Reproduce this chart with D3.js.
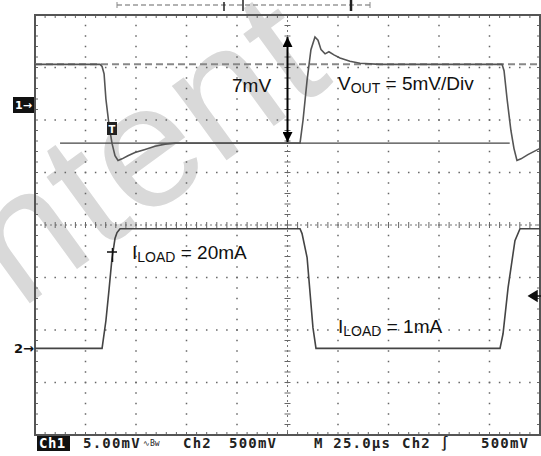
<!DOCTYPE html>
<html>
<head>
<meta charset="utf-8">
<script src="https://cdn.jsdelivr.net/npm/d3@7"></script>
<style>
  body { margin: 0; background: #fff; }
  svg { display: block; }
</style>
</head>
<body>
<svg id="svg" width="541" height="456"></svg>
<script>
"use strict";

// channel 1 : output voltage, 5 mV/div, time in us (25 us/div)
const ch1Time = [0, 32.2, 33.2, 34.2, 35.1, 36.6, 38.1, 39.6, 41.1, 43.1,
  46, 49.5, 54.5, 59.4, 64.4, 69.3, 131.2, 132.7, 134.7, 136.6,
  138.6, 140.1, 141.6, 143.6, 145.5, 148, 151, 155.9, 160.9, 170.8,
  231.2, 232.2, 233.7, 235.6, 237.1, 238.6, 240.6, 244, 250];
const ch1mV = [3.8, 3.8, 3.6, 2.9, 0.5, -1.9, -3.7, -4.9, -5.35, -5.2,
  -4.9, -4.6, -4.3, -4.0, -3.8, -3.7, -3.7, -1.5, 2.3, 5.2,
  6.4, 6.1, 5.2, 4.8, 5.0, 4.7, 4.4, 4.1, 3.9, 3.8,
  3.8, 3.2, 0.5, -2.5, -4.2, -5.35, -5.2, -4.8, -4.2];

// channel 2 : load current sense, 500 mV/div
const ch2Time = [0, 33.2, 35.1, 36.6, 38.1, 39.6, 40.6, 42.1, 131.2, 132.2,
  134.7, 137.6, 139.1, 230.2, 231.7, 234.2, 237.6, 240.1, 250];
const ch2mV = [0, 0, 263, 550, 855, 1046, 1103, 1140, 1140, 1093,
  865, 197, 0, 0, 139, 578, 1026, 1140, 1140];

// cursors (ch1, mV) and annotation
const cursorLow = -3.7, cursorHigh = 3.8, cursorStart = 12.4, cursorEnd = 235;
const peakMV = 6.4, arrowTime = 125;

const statusLabels = [
  {x: 83, text: "5.00mV"}, {x: 183, text: "Ch2"}, {x: 229, text: "500mV"},
  {x: 314, text: "M 25.0\u00b5s"}, {x: 402, text: "Ch2 \u222b"}, {x: 481, text: "500mV"}
];

const svg = d3.select("#svg");

const x = d3.scaleLinear().domain([0, 250]).range([35, 540]);
const yDiv = d3.scaleLinear().domain([-4, 4]).range([435, 15]);
const ch1Offset = 2.3, ch2Offset = -2.35;
const y1 = v => yDiv(v / 5 + ch1Offset);
const y2 = v => yDiv(v / 500 + ch2Offset);

// watermark
svg.append("text")
  .attr("transform", "translate(-161,442) rotate(-36)")
  .attr("font-family", "Liberation Sans, Arial, sans-serif")
  .attr("font-size", 175)
  .attr("fill", "#d9d9d9")
  .text("Content");

const grid = svg.append("g");
const minorDiv = d3.range(-4, 4.001, 0.2);
const minorT = d3.range(0, 250.001, 5);

// dotted grid lines
d3.range(25, 250, 25).filter(t => t !== 125).forEach(t => {
  grid.selectAll(null).data(minorDiv).enter().append("rect")
    .attr("x", x(t) - 0.75).attr("y", d => yDiv(d) - 0.75)
    .attr("width", 1.5).attr("height", 1.5).attr("fill", "#666");
});
d3.range(-3, 4, 1).filter(d => d !== 0).forEach(dv => {
  grid.selectAll(null).data(minorT).enter().append("rect")
    .attr("x", d => x(d) - 0.75).attr("y", yDiv(dv) - 0.75)
    .attr("width", 1.5).attr("height", 1.5).attr("fill", "#666");
});

// centre axes with ticks
grid.append("line")
  .attr("x1", x(0)).attr("x2", x(250)).attr("y1", yDiv(0)).attr("y2", yDiv(0))
  .attr("stroke", "#777").attr("stroke-dasharray", "2,3");
grid.selectAll(null).data(minorT).enter().append("line")
  .attr("x1", d => x(d)).attr("x2", d => x(d))
  .attr("y1", yDiv(0) - 3).attr("y2", yDiv(0) + 3)
  .attr("stroke", "#666");
grid.append("line")
  .attr("x1", x(125)).attr("x2", x(125)).attr("y1", yDiv(4)).attr("y2", yDiv(-4))
  .attr("stroke", "#777").attr("stroke-dasharray", "2,3");
grid.selectAll(null).data(minorDiv).enter().append("line")
  .attr("x1", x(125) - 3).attr("x2", x(125) + 3)
  .attr("y1", d => yDiv(d)).attr("y2", d => yDiv(d))
  .attr("stroke", "#666");

// frame edge ticks
grid.selectAll(null).data(minorT).enter().append("line")
  .attr("x1", d => x(d)).attr("x2", d => x(d))
  .attr("y1", yDiv(4)).attr("y2", yDiv(4) + 3).attr("stroke", "#666");
grid.selectAll(null).data(minorT).enter().append("line")
  .attr("x1", d => x(d)).attr("x2", d => x(d))
  .attr("y1", yDiv(-4)).attr("y2", yDiv(-4) - 3).attr("stroke", "#666");
grid.selectAll(null).data(minorDiv).enter().append("line")
  .attr("x1", x(0)).attr("x2", x(0) + 3)
  .attr("y1", d => yDiv(d)).attr("y2", d => yDiv(d)).attr("stroke", "#666");
grid.selectAll(null).data(minorDiv).enter().append("line")
  .attr("x1", x(250)).attr("x2", x(250) - 3)
  .attr("y1", d => yDiv(d)).attr("y2", d => yDiv(d)).attr("stroke", "#666");

svg.append("rect")
  .attr("x", x(0)).attr("y", yDiv(4))
  .attr("width", x(250) - x(0)).attr("height", yDiv(-4) - yDiv(4))
  .attr("fill", "none").attr("stroke", "#555").attr("stroke-width", 2);

// record bar at the top
svg.append("line")
  .attr("x1", 117).attr("x2", 370).attr("y1", 5).attr("y2", 5)
  .attr("stroke", "#999").attr("stroke-width", 1.5).attr("stroke-dasharray", "5,3");
[[117, 2, 8, "#888", 1], [224, 2, 11, "#222", 1.5], [243, 0, 11, "#222", 1.5],
 [351, 0, 11, "#222", 2.5], [370, 2, 8, "#888", 1]].forEach(m => {
  svg.append("line").attr("x1", m[0]).attr("x2", m[0]).attr("y1", m[1]).attr("y2", m[2])
    .attr("stroke", m[3]).attr("stroke-width", m[4]);
});

// cursors
svg.append("line")
  .attr("x1", x(0)).attr("x2", x(250)).attr("y1", y1(cursorHigh)).attr("y2", y1(cursorHigh))
  .attr("stroke", "#888").attr("stroke-width", 2).attr("stroke-dasharray", "7,4");
svg.append("line")
  .attr("x1", x(cursorStart)).attr("x2", x(cursorEnd)).attr("y1", y1(cursorLow)).attr("y2", y1(cursorLow))
  .attr("stroke", "#444").attr("stroke-width", 1.2);

// traces
const line1 = d3.line().x((d, i) => x(ch1Time[i])).y(d => y1(d));
const line2 = d3.line().x((d, i) => x(ch2Time[i])).y(d => y2(d));
svg.append("path").datum(ch1mV).attr("d", line1)
  .attr("fill", "none").attr("stroke", "#555").attr("stroke-width", 1.6);
svg.append("path").datum(ch2mV).attr("d", line2)
  .attr("fill", "none").attr("stroke", "#444").attr("stroke-width", 1.6);

// markers on the left and right
svg.append("rect").attr("x", 13).attr("y", 97).attr("width", 21).attr("height", 16).attr("fill", "#111");
svg.append("text").attr("x", 15).attr("y", 109).attr("fill", "#fff")
  .attr("font-family", "DejaVu Sans, sans-serif").attr("font-size", 11).attr("font-weight", "bold")
  .text("1\u2192");
svg.append("text").attr("x", 14).attr("y", y2(0) + 5).attr("fill", "#111")
  .attr("font-family", "DejaVu Sans, sans-serif").attr("font-size", 13).attr("font-weight", "bold")
  .text("2\u2192");
svg.append("rect").attr("x", 107).attr("y", 122).attr("width", 10).attr("height", 13).attr("fill", "#222");
svg.append("text").attr("x", 112).attr("y", 133).attr("fill", "#fff").attr("text-anchor", "middle")
  .attr("font-family", "DejaVu Sans, sans-serif").attr("font-size", 10).attr("font-weight", "bold")
  .text("T");
svg.append("path").attr("d", "M107,252H117M112.5,248V262")
  .attr("stroke", "#111").attr("stroke-width", 1.5).attr("fill", "none");
svg.append("path").attr("d", "M529,296L537,291V301Z M537,296H541").attr("fill", "#111")
  .attr("stroke", "#111").attr("stroke-width", 1.5);

// 7mV arrow
const defs = svg.append("defs");
defs.append("marker").attr("id", "head").attr("viewBox", "0 0 10 10")
  .attr("refX", 10).attr("refY", 5).attr("markerWidth", 5).attr("markerHeight", 5)
  .attr("orient", "auto-start-reverse").attr("markerUnits", "strokeWidth")
  .append("path").attr("d", "M0,0L10,5L0,10Z").attr("fill", "#000");
svg.append("line")
  .attr("x1", x(arrowTime)).attr("x2", x(arrowTime)).attr("y1", y1(peakMV)).attr("y2", y1(cursorLow) - 1)
  .attr("stroke", "#000").attr("stroke-width", 2)
  .attr("marker-start", "url(#head)").attr("marker-end", "url(#head)");

const ann = svg.append("g").attr("font-family", "Liberation Sans, Arial, sans-serif")
  .attr("font-size", 19).attr("fill", "#111");
ann.append("text").attr("x", 232).attr("y", 92).text("7mV");
const vout = ann.append("text").attr("x", 338).attr("y", 90);
vout.append("tspan").text("V");
vout.append("tspan").attr("font-size", 14).attr("dy", 3).text("OUT");
vout.append("tspan").attr("dy", -3).text(" = 5mV/Div");
const il1 = ann.append("text").attr("x", 132).attr("y", 259);
il1.append("tspan").text("I");
il1.append("tspan").attr("font-size", 14).attr("dy", 3).text("LOAD");
il1.append("tspan").attr("dy", -3).text(" = 20mA");
const il2 = ann.append("text").attr("x", 338).attr("y", 333);
il2.append("tspan").text("I");
il2.append("tspan").attr("font-size", 14).attr("dy", 3).text("LOAD");
il2.append("tspan").attr("dy", -3).text(" = 1mA");

// status line
svg.append("rect").attr("x", 37).attr("y", 436).attr("width", 33).attr("height", 15).attr("fill", "#111");
const status = svg.append("g").attr("font-family", "DejaVu Sans Mono, monospace")
  .attr("font-size", 14).attr("font-weight", "bold").attr("letter-spacing", 1.2).attr("fill", "#222");
status.append("text").attr("x", 39).attr("y", 448).attr("fill", "#fff").attr("letter-spacing", 0.5).text("Ch1");
statusLabels.forEach(s => {
  status.append("text").attr("x", s.x).attr("y", 448).text(s.text);
});
status.append("text").attr("x", 143).attr("y", 446).attr("font-size", 8).attr("letter-spacing", 0)
  .attr("font-weight", "normal").text("\u223fBw");
</script>
</body>
</html>
